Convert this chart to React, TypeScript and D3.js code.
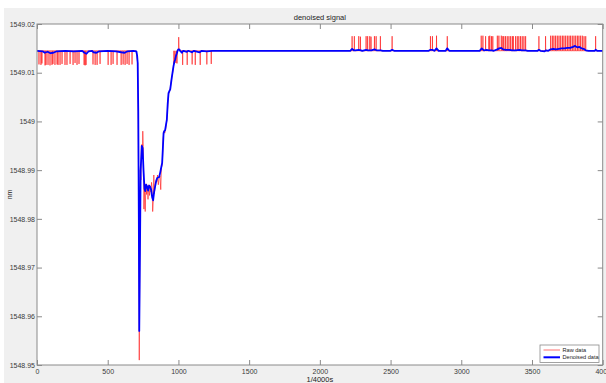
import React, { useEffect, useRef } from 'react'
import * as d3 from 'd3'

// values (sample index, wavelength in nm)
const baseline = 1549.0145

const xTicks = [0, 500, 1000, 1500, 2000, 2500, 3000, 3500, 4000]
const xTickLabels = ['0', '500', '1000', '1500', '2000', '2500', '3000', '3500', '4000']
const yTicks = [1548.95, 1548.96, 1548.97, 1548.98, 1548.99, 1549.0, 1549.01, 1549.02]
const yTickLabels = ['1548.95', '1548.96', '1548.97', '1548.98', '1548.99', '1549', '1549.01', '1549.02']

// raw data: short downward spikes before the dip
const earlyDownSpikes: [number, number][] = [
  [14, 1549.0117], [28, 1549.0116], [35, 1549.0119], [57, 1549.0115], [64, 1549.0116],
  [78, 1549.0116], [92, 1549.0115], [106, 1549.0116], [113, 1549.0118], [127, 1549.0116],
  [142, 1549.0117], [149, 1549.0116], [163, 1549.0116], [177, 1549.0118], [198, 1549.0116],
  [212, 1549.0116], [234, 1549.0118], [255, 1549.0116], [269, 1549.012], [283, 1549.0116],
  [297, 1549.0118], [333, 1549.0116], [340, 1549.0115], [347, 1549.0116], [396, 1549.0117],
  [411, 1549.0116], [425, 1549.0116], [446, 1549.0118], [503, 1549.0116], [524, 1549.0116],
  [538, 1549.0118], [566, 1549.0116], [595, 1549.0116], [609, 1549.0117], [623, 1549.0116],
  [637, 1549.0118], [651, 1549.0116], [672, 1549.0117],
]

// raw data: the dip and recovery
const rawDip: [number, number][] = [
  [700, 1549.0145], [712, 1549.012], [716, 1549.0], [720, 1548.975], [723, 1548.951],
  [726, 1548.968], [730, 1548.99], [735, 1548.988], [738, 1548.995], [742, 1548.9953],
  [745, 1548.9945], [748, 1548.998], [752, 1548.9948], [756, 1548.982], [760, 1548.9875],
  [765, 1548.9815], [770, 1548.9872], [775, 1548.985], [780, 1548.9868], [785, 1548.984],
  [790, 1548.987], [796, 1548.9848], [800, 1548.9865], [806, 1548.9855], [810, 1548.9875],
  [814, 1548.9865], [818, 1548.9815], [822, 1548.9835], [826, 1548.989], [830, 1548.9852],
  [836, 1548.987], [842, 1548.9878], [848, 1548.9876], [852, 1548.989], [858, 1548.987],
  [864, 1548.9886], [870, 1548.9888], [875, 1548.986], [880, 1548.9905], [886, 1548.9912],
  [892, 1548.9965], [898, 1548.998], [904, 1548.9976], [910, 1548.9985], [918, 1549.0003],
  [924, 1549.003], [930, 1549.0056], [936, 1549.006], [942, 1549.0068], [950, 1549.0085],
  [958, 1549.0098], [965, 1549.0112], [968, 1549.0145], [972, 1549.0118], [976, 1549.0145],
  [982, 1549.012], [986, 1549.0145], [990, 1549.0119], [994, 1549.0145], [1000, 1549.0148],
  [1002, 1549.0173], [1005, 1549.0148], [1012, 1549.0146],
]

const recoveryDownSpikes: [number, number][] = [
  [1030, 1549.0116], [1062, 1549.0116], [1097, 1549.0117], [1119, 1549.0116],
  [1154, 1549.0116], [1201, 1549.0117], [1232, 1549.0118],
]

// raw data: upward spikes in the second half
const lateUpSpikes: [number, number][] = [
  [2228, 1549.0175], [2244, 1549.0175], [2275, 1549.0175], [2287, 1549.0174], [2327, 1549.0175],
  [2338, 1549.0175], [2353, 1549.0175], [2362, 1549.0174], [2386, 1549.0175], [2398, 1549.0175],
  [2428, 1549.0175], [2511, 1549.0175], [2782, 1549.0175], [2796, 1549.0175], [2825, 1549.0176],
  [2901, 1549.0175], [3141, 1549.0176], [3153, 1549.0176], [3172, 1549.0175], [3195, 1549.0175],
  [3202, 1549.0176], [3214, 1549.0175], [3223, 1549.0175], [3255, 1549.0176], [3266, 1549.0176],
  [3283, 1549.0176], [3294, 1549.0175], [3301, 1549.0175], [3313, 1549.0175], [3325, 1549.0175],
  [3337, 1549.0175], [3349, 1549.0175], [3361, 1549.0175], [3368, 1549.0175], [3384, 1549.0175],
  [3396, 1549.0175], [3407, 1549.0175], [3419, 1549.0175], [3431, 1549.0175], [3443, 1549.0175],
  [3455, 1549.0175], [3549, 1549.0175], [3596, 1549.0175], [3632, 1549.0176], [3644, 1549.0176],
  [3655, 1549.0176], [3667, 1549.0176], [3679, 1549.0176], [3691, 1549.0176], [3703, 1549.0176],
  [3715, 1549.0176], [3726, 1549.0176], [3738, 1549.0176], [3750, 1549.0176], [3762, 1549.0176],
  [3773, 1549.0176], [3785, 1549.0176], [3797, 1549.0176], [3809, 1549.0176], [3821, 1549.0176],
  [3832, 1549.0176], [3844, 1549.0176], [3856, 1549.0176], [3868, 1549.0175], [3880, 1549.0175],
  [3950, 1549.0175],
]

const denoised: [number, number][] = [
  [0, 1549.0145], [40, 1549.0144], [55, 1549.0141], [75, 1549.0143], [95, 1549.014],
  [115, 1549.0141], [140, 1549.0144], [200, 1549.0145], [260, 1549.0144], [320, 1549.0145],
  [335, 1549.0141], [350, 1549.0139], [365, 1549.0144], [390, 1549.0145], [400, 1549.0142],
  [420, 1549.0141], [440, 1549.0144], [500, 1549.0145], [560, 1549.0144], [595, 1549.0142],
  [620, 1549.0141], [640, 1549.0144], [680, 1549.0145], [703, 1549.0144], [708, 1549.0135],
  [712, 1549.012], [716, 1549.002], [720, 1548.98], [723, 1548.957], [727, 1548.97],
  [733, 1548.99], [741, 1548.995], [747, 1548.9945], [753, 1548.99], [760, 1548.9862],
  [765, 1548.9857], [772, 1548.987], [779, 1548.9866], [786, 1548.9858], [793, 1548.9868],
  [800, 1548.9866], [807, 1548.986], [814, 1548.9845], [821, 1548.9838], [828, 1548.9855],
  [835, 1548.9866], [843, 1548.9878], [850, 1548.9884], [857, 1548.9885], [864, 1548.9886],
  [871, 1548.9895], [878, 1548.9905], [885, 1548.9915], [890, 1548.9945], [895, 1548.9976],
  [900, 1548.998], [906, 1548.9982], [912, 1548.9993], [918, 1549.0003], [924, 1549.0035],
  [930, 1549.0058], [936, 1549.0062], [942, 1549.0066], [953, 1549.009], [965, 1549.0113],
  [971, 1549.0122], [977, 1549.0127], [983, 1549.0135], [989, 1549.014], [995, 1549.0146],
  [1000, 1549.0148], [1006, 1549.0148], [1012, 1549.0145], [1018, 1549.0143], [1024, 1549.0141],
  [1030, 1549.0144], [1036, 1549.0145], [1060, 1549.0143], [1070, 1549.0145], [1095, 1549.0142],
  [1110, 1549.0145], [1150, 1549.0142], [1165, 1549.0145], [1200, 1549.0144], [1240, 1549.0145],
  [2215, 1549.0145], [2228, 1549.0149], [2240, 1549.0146], [2250, 1549.0146], [2275, 1549.0147],
  [2290, 1549.0146], [2300, 1549.0145], [2327, 1549.0147], [2340, 1549.0146], [2355, 1549.0146],
  [2365, 1549.0146], [2386, 1549.0148], [2400, 1549.0146], [2430, 1549.0146], [2445, 1549.0145],
  [2500, 1549.0145], [2511, 1549.0147], [2525, 1549.0145], [2770, 1549.0145], [2782, 1549.0147],
  [2796, 1549.0147], [2810, 1549.0145], [2825, 1549.015], [2840, 1549.0145], [2890, 1549.0145],
  [2901, 1549.015], [2915, 1549.0145], [3130, 1549.0145], [3145, 1549.015], [3160, 1549.0146],
  [3180, 1549.0147], [3195, 1549.0146], [3215, 1549.0146], [3230, 1549.0145], [3255, 1549.0148],
  [3268, 1549.015], [3283, 1549.0151], [3295, 1549.0148], [3315, 1549.0147], [3340, 1549.0147],
  [3360, 1549.0146], [3385, 1549.0146], [3410, 1549.0147], [3430, 1549.0146], [3455, 1549.0146],
  [3470, 1549.0145], [3540, 1549.0145], [3549, 1549.0147], [3560, 1549.0145], [3590, 1549.0144],
  [3600, 1549.0146], [3615, 1549.0145], [3632, 1549.0148], [3650, 1549.0149], [3670, 1549.0148],
  [3690, 1549.0149], [3710, 1549.015], [3730, 1549.015], [3750, 1549.0151], [3770, 1549.0151],
  [3790, 1549.0153], [3805, 1549.0155], [3820, 1549.0152], [3835, 1549.0153], [3850, 1549.015],
  [3865, 1549.0149], [3880, 1549.0146], [3900, 1549.0145], [3945, 1549.0145], [3950, 1549.0147],
  [3960, 1549.0145], [4000, 1549.0145],
]

const legendLabels = ['Raw data', 'Denoised data']

// raw line = flat baseline with the spikes sitting on it, plus the dip section
const buildRaw = () => {
  const pts: [number, number][] = [[0, baseline]]
  const spikes = [...earlyDownSpikes, ...recoveryDownSpikes, ...lateUpSpikes]
  spikes.forEach(([s, v]) => {
    pts.push([s - 1, baseline], [s, v], [s + 1, baseline])
  })
  rawDip.forEach(p => pts.push(p))
  pts.push([4000, baseline])
  return pts.sort((a, b) => a[0] - b[0])
}

const W = 606
const H = 383

export default function App() {
  const ref = useRef<SVGSVGElement>(null)

  useEffect(() => {
    const svg = d3.select(ref.current)
    svg.selectAll('*').remove()

    const margin = { top: 24, right: 3.3, bottom: 18, left: 37 }
    const width = W - margin.left - margin.right
    const height = H - margin.top - margin.bottom

    // figure background
    svg.append('rect').attr('width', W).attr('height', H).attr('fill', '#ffffff')
    svg.append('rect').attr('x', 4).attr('y', 8).attr('width', W - 4).attr('height', H - 8).attr('fill', '#f0f0f0')

    const g = svg.append('g').attr('transform', 'translate(' + margin.left + ',' + margin.top + ')')
    g.append('rect').attr('width', width).attr('height', height).attr('fill', '#ffffff')

    const x = d3.scaleLinear().domain([0, 4000]).range([0, width])
    const y = d3.scaleLinear().domain([1548.95, 1549.02]).range([height, 0])

    const tickFont = (sel: any) => {
      sel.selectAll('text')
        .style('font-family', '"Liberation Sans", Arial, sans-serif')
        .style('font-size', '7px')
        .attr('fill', '#3a3a3a')
      sel.selectAll('line').attr('stroke', '#8a8a8a')
      sel.select('.domain').remove()
    }

    g.append('g').attr('transform', 'translate(0,' + height + ')')
      .call(d3.axisBottom(x).tickValues(xTicks).tickFormat((d, i) => xTickLabels[i]).tickSizeInner(-5).tickSizeOuter(0).tickPadding(4))
      .call(tickFont)
    g.append('g')
      .call(d3.axisTop(x).tickValues(xTicks).tickFormat(() => '').tickSizeInner(-5).tickSizeOuter(0))
      .call(tickFont)
    g.append('g')
      .call(d3.axisLeft(y).tickValues(yTicks).tickFormat((d, i) => yTickLabels[i]).tickSizeInner(-5).tickSizeOuter(0).tickPadding(2))
      .call(tickFont)
    g.append('g').attr('transform', 'translate(' + width + ',0)')
      .call(d3.axisRight(y).tickValues(yTicks).tickFormat(() => '').tickSizeInner(-5).tickSizeOuter(0))
      .call(tickFont)

    const line = d3.line<[number, number]>()
      .x(d => x(d[0]))
      .y(d => y(d[1]))

    g.append('path')
      .datum(buildRaw())
      .attr('fill', 'none')
      .attr('stroke', '#ff0000')
      .attr('stroke-opacity', 0.55)
      .attr('stroke-width', 1)
      .attr('d', line)

    g.append('path')
      .datum(denoised)
      .attr('fill', 'none')
      .attr('stroke', '#0000ff')
      .attr('stroke-width', 1.8)
      .attr('stroke-linejoin', 'round')
      .attr('d', line)

    // box
    g.append('rect').attr('width', width).attr('height', height)
      .attr('fill', 'none').attr('stroke', '#8a8a8a').attr('stroke-width', 1)

    // legend
    const lg = g.append('g').attr('transform', 'translate(' + (540 - margin.left) + ',' + (345 - margin.top) + ')')
    lg.append('rect').attr('width', 59).attr('height', 17.5)
      .attr('fill', '#ffffff').attr('stroke', '#8a8a8a').attr('stroke-width', 0.8)
    const colors = ['#ff7070', '#0000ff']
    const widths = [1, 2]
    legendLabels.forEach((label, i) => {
      const yy = 5 + i * 7.3
      lg.append('line').attr('x1', 3.5).attr('x2', 20).attr('y1', yy).attr('y2', yy)
        .attr('stroke', colors[i]).attr('stroke-width', widths[i])
      lg.append('text').attr('x', 22.5).attr('y', yy + 2)
        .style('font-family', '"Liberation Sans", Arial, sans-serif')
        .style('font-size', '5.6px')
        .attr('fill', '#222')
        .text(label)
    })

    // title and axis labels
    svg.append('text').attr('x', margin.left + width / 2).attr('y', 19.5)
      .attr('text-anchor', 'middle')
      .style('font-family', '"Liberation Sans", Arial, sans-serif')
      .style('font-size', '7.5px')
      .attr('fill', '#222')
      .text('denoised signal')
    svg.append('text').attr('x', margin.left + width / 2).attr('y', 382)
      .attr('text-anchor', 'middle')
      .style('font-family', '"Liberation Sans", Arial, sans-serif')
      .style('font-size', '7.5px')
      .attr('fill', '#222')
      .text('1/4000s')
    svg.append('text')
      .attr('transform', 'translate(12,' + (margin.top + height / 2) + ') rotate(-90)')
      .attr('text-anchor', 'middle')
      .style('font-family', '"Liberation Sans", Arial, sans-serif')
      .style('font-size', '7px')
      .attr('fill', '#222')
      .text('nm')
  }, [])

  return (
    <div style={{ position: 'absolute', left: 0, top: 0 }}>
      <svg ref={ref} width={W} height={H} style={{ display: 'block' }}></svg>
    </div>
  )
}
